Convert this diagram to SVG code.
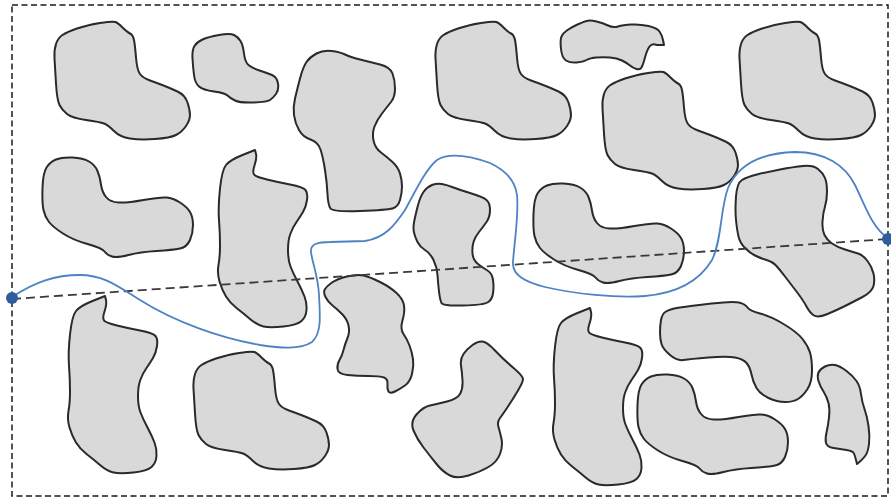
<svg xmlns="http://www.w3.org/2000/svg" xmlns:xlink="http://www.w3.org/1999/xlink" width="891" height="499" viewBox="0 0 891 499">
<style>
.blob{fill:#d9d9d9;stroke:#2a2a2a;stroke-width:2;stroke-linejoin:round}
.frame{fill:none;stroke:#1a1a1a;stroke-width:1.5;stroke-dasharray:6 3.5}
.chord{fill:none;stroke:#3a3a3a;stroke-width:1.8;stroke-dasharray:9 5}
.route{fill:none;stroke:#4d83c4;stroke-width:1.8}
.pt{fill:#2f5d9b}
</style>
<defs>
<path id="shA" d="M54.5,58.5 Q54,50 56,44 Q58,38 62.5,35 Q67,32 77,28.5 Q87,25 100,23 Q113,21 115.5,22 Q118,23 122.5,27.5 Q127,32 130,33.5 Q133,35 134,40 Q135,45 136,57.5 Q137,70 140,74 Q143,78 150,80.5 Q157,83 163.5,85.5 Q170,88 177.5,91.5 Q185,95 187.5,102.5 Q190,110 190,115 Q190,120 186,126 Q182,132 176,135 Q170,138 155,139 Q140,140 130,138.5 Q120,137 114,131 Q108,125 104,123.5 Q100,122 86,120 Q72,118 67,114 Q62,110 59.5,105 Q57,100 56,83.5 Q55,67 54.5,58.5 Z"/>
<path id="shE" d="M43.5,210 Q42,203 42.5,188 Q43,173 46.5,167.5 Q50,162 56,159.5 Q62,157 72.5,157.5 Q83,158 89,161.5 Q95,165 97.5,171 Q100,177 101,184.5 Q102,192 106,197 Q110,202 118.5,202.5 Q127,203 143.5,200 Q160,197 166.5,197.5 Q173,198 180,202.5 Q187,207 190,212 Q193,217 193,225 Q193,233 190,240 Q187,247 180,248.5 Q173,250 156.5,251 Q140,252 128.5,255 Q117,258 112,256.5 Q107,255 104.5,251.5 Q102,248 87.5,244 Q73,240 63,233.5 Q53,227 49,222 Q45,217 43.5,210 Z"/>
<path id="shG" d="M219,220 Q218,207 220,188.5 Q222,170 226,165 Q230,160 242.5,155 L255,150 L256,154 Q257,158 254.5,165.5 Q252,173 254.5,175 Q257,177 267,179.5 Q277,182 290,184.5 Q303,187 305.5,190 Q308,193 307,200 Q306,207 303,212 Q300,217 296.5,222 Q293,227 290.5,233.5 Q288,240 288,250 Q288,260 290.5,266.5 Q293,273 297.5,281.5 Q302,290 304.5,296.5 Q307,303 306.5,310 Q306,317 301.5,321 Q297,325 283.5,326.5 Q270,328 263.5,326.5 Q257,325 250,319 Q243,313 236.5,308 Q230,303 226,296.5 Q222,290 219.5,281.5 Q217,273 218.5,265 Q220,257 220,245 Q220,233 219,220 Z"/>
</defs>
<rect class="frame" x="12" y="5" width="876" height="491"/>
<g id="obstacles">
<use class="blob" xlink:href="#shA" href="#shA"/>
<use class="blob" xlink:href="#shA" href="#shA" transform="translate(381,0)"/>
<use class="blob" xlink:href="#shA" href="#shA" transform="translate(685,0)"/>
<use class="blob" xlink:href="#shA" href="#shA" transform="translate(548,50)"/>
<use class="blob" xlink:href="#shA" href="#shA" transform="translate(139,330)"/>
<use class="blob" xlink:href="#shE" href="#shE"/>
<use class="blob" xlink:href="#shE" href="#shE" transform="translate(491,26)"/>
<use class="blob" xlink:href="#shE" href="#shE" transform="translate(595,217)"/>
<use class="blob" xlink:href="#shG" href="#shG"/>
<use class="blob" xlink:href="#shG" href="#shG" transform="translate(-150,146)"/>
<use class="blob" xlink:href="#shG" href="#shG" transform="translate(335,158)"/>
<path class="blob" d="M192.5,58.5 Q192,50 194.5,46 Q197,42 202.5,39.5 Q208,37 219,35 Q230,33 234,35 Q238,37 240.5,41 Q243,45 244,53.5 Q245,62 248.5,65 Q252,68 259.5,70.5 Q267,73 272,75 Q277,77 278,83.5 Q279,90 276,94 Q273,98 270,100 Q267,102 253.5,102.5 Q240,103 235,100.5 Q230,98 227.5,95.5 Q225,93 214,91.5 Q203,90 199,86.5 Q195,83 194,75 Q193,67 192.5,58.5 Z"/>
<path class="blob" d="M294,115 Q293,107 295,98.5 Q297,90 300,78.5 Q303,67 306.5,62 Q310,57 316.5,53.5 Q323,50 331.5,51 Q340,52 345,54.5 Q350,57 360,59.5 Q370,62 380,64.5 Q390,67 392.5,73.5 Q395,80 395,88.5 Q395,97 391,102 Q387,107 382,113.5 Q377,120 374.5,126.5 Q372,133 373.5,140.5 Q375,148 381,152.5 Q387,157 392.5,162 Q398,167 400,173.5 Q402,180 402,186.5 Q402,193 400,200 Q398,207 392.5,208.5 Q387,210 360,211 Q333,212 330.5,208.5 Q328,205 327.5,194 Q327,183 325,170 Q323,157 320.5,149.5 Q318,142 310.5,139.5 Q303,137 299,130 Q295,123 294,115 Z"/>
<path class="blob" d="M561,49 Q560,40 561.5,36.5 Q563,33 567.5,30 Q572,27 577.5,24.5 Q583,22 586.5,21 Q590,20 596.5,21.5 Q603,23 608,25.5 Q613,28 618,26.5 Q623,25 631.5,24.5 Q640,24 648.5,26 Q657,28 659.5,31.5 Q662,35 663,40 L664,45 L657,45 Q652,43 649.5,46.5 Q647,50 645,57.5 Q643,65 641.5,67.5 Q640,70 636.5,69 Q633,68 630,65.5 Q627,63 622,60.5 Q617,58 610,57.5 Q603,57 596.5,57.5 Q590,58 586.5,60 Q583,62 576.5,62.5 Q570,63 566,60.5 Q562,58 561,49 Z"/>
<path class="blob" d="M414,232.5 Q413,228 414,222.5 Q415,217 417.5,207 Q420,197 423.5,192 Q427,187 432,185 Q437,183 442,184 Q447,185 453.5,187.5 Q460,190 471.5,193.5 Q483,197 486.5,200 Q490,203 490,210 Q490,217 486.5,222 Q483,227 479,232 Q475,237 473.5,242 Q472,247 472.5,253.5 Q473,260 478,264 Q483,268 487.5,270.5 Q492,273 493,280 Q494,287 493,293.5 Q492,300 487.5,302.5 Q483,305 463,305.5 Q443,306 441.5,303 Q440,300 439,291.5 Q438,283 437.5,275 Q437,267 433.5,260 Q430,253 425,250 Q420,247 417.5,242 Q415,237 414,232.5 Z"/>
<path class="blob" d="M325.5,297 Q323,292 325,289 Q327,286 332,282.5 Q337,279 347,276.5 Q357,274 363.5,275.5 Q370,277 380,282 Q390,287 396.5,293 Q403,299 404,305.5 Q405,312 402.5,320.5 Q400,329 403.5,334 Q407,339 409.5,345.5 Q412,352 413,359 Q414,366 412,374 Q410,382 405,385.5 Q400,389 395,391.5 Q390,394 388.5,391.5 Q387,389 387.5,384 Q388,379 384,377.5 Q380,376 368.5,376 Q357,376 347.5,375 Q338,374 337.5,369 Q337,364 339.5,360 Q342,356 343.5,350 Q345,344 347.5,338 Q350,332 348.5,325.5 Q347,319 342,314 Q337,309 332.5,305.5 Q328,302 325.5,297 Z"/>
<path class="blob" d="M413.5,430.5 Q410,422 416.5,414.5 Q423,407 430,405.5 Q437,404 447,401.5 Q457,399 460,394 Q463,389 462.5,380.5 Q462,372 461,365.5 Q460,359 463.5,354 Q467,349 472.5,345 Q478,341 482.5,341.5 Q487,342 495,350.5 Q503,359 513,367.5 Q523,376 523,379 Q523,382 518,390.5 Q513,399 508,406.5 Q503,414 500,418 Q497,422 498.5,427 Q500,432 501.5,439 Q503,446 500,454 Q497,462 488.5,467 Q480,472 468.5,475.5 Q457,479 450,475.5 Q443,472 436.5,464 Q430,456 423.5,447.5 Q417,439 413.5,430.5 Z"/>
<path class="blob" d="M736,220 Q735,210 736,196.5 Q737,183 742,180 Q747,177 757,174.5 Q767,172 780,169.5 Q793,167 803,166 Q813,165 818,169 Q823,173 825,178 Q827,183 827,191.5 Q827,200 825,206.5 Q823,213 822.5,221.5 Q822,230 824.5,235 Q827,240 832,243.5 Q837,247 845,249.5 Q853,252 858,253.5 Q863,255 867.5,261 Q872,267 873.5,273.5 Q875,280 873.5,286 Q872,292 862.5,297 Q853,302 845,306 Q837,310 827.5,314 Q818,318 814,315.5 Q810,313 806.5,306.5 Q803,300 796.5,291.5 Q790,283 785,276.5 Q780,270 776.5,266 Q773,262 766.5,260 Q760,258 755,255.5 Q750,253 745,248 Q740,243 738.5,236.5 Q737,230 736,220 Z"/>
<path class="blob" d="M660,332.5 Q660,326 661,320 Q662,314 666,311.5 Q670,309 680,307.5 Q690,306 711.5,303.5 Q733,301 739,302.5 Q745,304 747.5,307.5 Q750,311 760,313.5 Q770,316 783.5,324 Q797,332 802.5,339 Q808,346 810,352.5 Q812,359 812,370.5 Q812,382 807.5,389 Q803,396 798,399 Q793,402 785,402 Q777,402 768.5,398 Q760,394 756.5,388 Q753,382 751.5,374.5 Q750,367 746.5,363 Q743,359 735,357.5 Q727,356 708.5,357.5 Q690,359 683.5,360 Q677,361 670,355 Q663,349 661.5,344 Q660,339 660,332.5 Z"/>
<path class="blob" d="M818.5,381 Q817,376 818.5,372.5 Q820,369 825,366.5 Q830,364 835,365 Q840,366 846.5,371 Q853,376 856.5,381 Q860,386 861,394 Q862,402 864.5,409 Q867,416 868.5,426 Q870,436 869,444 Q868,452 865.5,455.5 Q863,459 860,461.5 L857,464 L856,460 Q855,456 854,453.5 Q853,451 846.5,450 Q840,449 833.5,448 Q827,447 826,443 Q825,439 826.5,432.5 Q828,426 829,417.5 Q830,409 828.5,403 Q827,397 823.5,391.5 Q820,386 818.5,381 Z"/>
</g>
<g id="connectors">
<line class="chord" x1="12" y1="299" x2="888" y2="239"/>
<path class="route" d="M12,297 C35,282 55,275 80,275 C105,275 120,288 140,300 C175,322 220,338 260,345 C280,348 300,350 312,342 C322,333 320,315 319,295 C318,275 312,262 311,252 C310,244 318,242 330,242 L365,241 C385,238 395,225 405,210 C415,192 425,170 437,160 C450,152 470,156 490,163 C505,170 515,180 517,195 C519,215 514,245 513,262 C512,275 525,282 545,287 C575,294 615,298 645,296 C680,293 700,280 712,260 C722,240 720,210 728,188 C738,165 760,153 795,152 C825,152 845,165 855,185 C865,205 872,228 888,238"/>
</g>
<g id="start"><circle class="pt" cx="12" cy="298" r="6"/></g>
<g id="end"><circle class="pt" cx="888" cy="239" r="6"/></g>
</svg>
